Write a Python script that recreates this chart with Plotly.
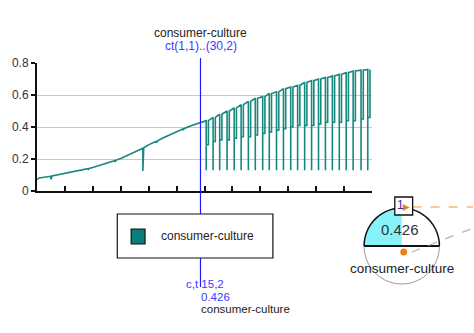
import math
import plotly.graph_objects as go

# ---------------- data ----------------
series_name = "consumer-culture"
cursor_c = 15
cursor_value = 0.426
y_ticks = [0, 0.2, 0.4, 0.6, 0.8]
y_tick_labels = ["0", "0.2", "0.4", "0.6", "0.8"]

# smooth left part (with small notches and one spike)
left_x = [0.36, 0.55, 1.55, 1.62, 1.70, 2.85, 4.00, 4.90, 4.96, 5.02, 5.42, 6.66,
          7.30, 7.36, 7.42, 7.90, 8.88, 9.81, 9.84, 9.84, 9.92, 10.39, 11.00, 11.06,
          11.12, 11.54, 12.87, 13.40, 13.46, 13.52, 14.03, 15.00]
left_y = [0.072, 0.082, 0.092, 0.074, 0.094, 0.110, 0.126, 0.140, 0.132, 0.141, 0.148, 0.174,
          0.190, 0.182, 0.192, 0.205, 0.236, 0.265, 0.268, 0.125, 0.270, 0.290, 0.310, 0.303,
          0.312, 0.328, 0.372, 0.388, 0.381, 0.390, 0.405, 0.426]

# right part: periodic spikes
spike_x = [15.51, 16.13, 16.72, 17.38, 18.02, 18.64, 19.29, 19.91, 20.57, 21.16, 21.81, 22.43,
           23.08, 23.70, 24.33, 24.95, 25.57, 26.19, 26.81, 27.43, 28.05, 28.67, 29.38, 29.98]
spike_top = [0.44, 0.46, 0.48, 0.50, 0.52, 0.54, 0.56, 0.58, 0.59, 0.61, 0.62, 0.64,
             0.65, 0.66, 0.68, 0.69, 0.70, 0.71, 0.72, 0.73, 0.74, 0.75, 0.755, 0.76]
spike_mid = [0.29, 0.31, 0.32, 0.32, 0.33, 0.34, 0.34, 0.35, 0.36, 0.37, 0.38, 0.39,
             0.40, 0.41, 0.41, 0.41, 0.42, 0.43, 0.43, 0.43, 0.44, 0.44, 0.45, 0.46]
spike_low = 0.13

# ---------------- build line path ----------------
xs = list(left_x)
ys = list(left_y)
w = 0.2
for sx, st, sm in zip(spike_x, spike_top, spike_mid):
    xs += [sx, sx, sx, sx + w, sx + w]
    ys += [st, spike_low, sm, sm, st]

LINE = "#17887f"
fig = go.Figure()
fig.add_trace(go.Scatter(x=xs, y=ys, mode="lines", line=dict(color=LINE, width=1.6),
                         name=series_name, showlegend=False, hoverinfo="skip"))

# ---------------- pixel helpers (for decorations) ----------------
L, R, T, B = 34, 372, 63, 191
def PX(px):
    return (px - L) / (R - L)
def PY(py):
    return (B - py) / (B - T)

shapes = []
annotations = []
FONT = "Liberation Sans, Arial, sans-serif"

# cursor line
shapes.append(dict(type="line", xref="x", yref="paper", x0=cursor_c, x1=cursor_c,
                   y0=PY(287), y1=PY(58), line=dict(color="#1a1aff", width=1.2)))

# titles
annotations.append(dict(text=series_name, xref="paper", yref="paper", x=PX(199), y=PY(33),
                        showarrow=False, font=dict(family=FONT, size=12, color="#222"),
                        xanchor="center", yanchor="middle"))
annotations.append(dict(text="ct(1,1)..(30,2)", xref="paper", yref="paper", x=PX(199), y=PY(46),
                        showarrow=False, font=dict(family=FONT, size=12, color="#3a3aff"),
                        xanchor="center", yanchor="middle"))

# legend box
shapes.append(dict(type="rect", xref="paper", yref="paper", x0=PX(115), x1=PX(272),
                   y0=PY(258), y1=PY(214), line=dict(color="#111", width=1.2),
                   fillcolor="white", layer="above"))
shapes.append(dict(type="rect", xref="paper", yref="paper", x0=PX(129), x1=PX(143),
                   y0=PY(244), y1=PY(229), line=dict(color="#111", width=1.2),
                   fillcolor="#0a7f7a", layer="above"))
annotations.append(dict(text=series_name, xref="paper", yref="paper", x=PX(157), y=PY(236),
                        showarrow=False, font=dict(family=FONT, size=12, color="#222"),
                        xanchor="left", yanchor="middle"))

# cursor labels at bottom
annotations.append(dict(text="c,t %d,2" % cursor_c, xref="paper", yref="paper", x=PX(182), y=PY(284),
                        showarrow=False, font=dict(family=FONT, size=11.5, color="#3a3aff"),
                        xanchor="left", yanchor="middle"))
annotations.append(dict(text="%.3f" % cursor_value, xref="paper", yref="paper", x=PX(197), y=PY(296.5),
                        showarrow=False, font=dict(family=FONT, size=11.5, color="#3a3aff"),
                        xanchor="left", yanchor="middle"))
annotations.append(dict(text=series_name, xref="paper", yref="paper", x=PX(197), y=PY(309),
                        showarrow=False, font=dict(family=FONT, size=11.5, color="#222"),
                        xanchor="left", yanchor="middle"))

# gauge widget
cx, cy, r = 402, 246, 38
def arc(a0, a1, n=40):
    pts = []
    for i in range(n + 1):
        a = math.radians(a0 + (a1 - a0) * i / n)
        pts.append((cx + r * math.cos(a), cy - r * math.sin(a)))
    return pts
def path(pts, close=False):
    s = "M " + " L ".join("%.5f,%.5f" % (PX(x), PY(y)) for x, y in pts)
    return s + (" Z" if close else "")

shapes.append(dict(type="path", xref="paper", yref="paper",
                   path=path(arc(180, 360), False), line=dict(color="#9a9a9a", width=1)))
shapes.append(dict(type="path", xref="paper", yref="paper",
                   path=path([(cx, cy)] + arc(180, 90), True),
                   fillcolor="#86f3fb", line=dict(width=0)))
shapes.append(dict(type="path", xref="paper", yref="paper",
                   path=path(arc(0, 180), False), line=dict(color="#111", width=1.5)))
shapes.append(dict(type="line", xref="paper", yref="paper", x0=PX(cx - r), x1=PX(cx + r),
                   y0=PY(cy), y1=PY(cy), line=dict(color="#111", width=2)))
# dashed connectors
shapes.append(dict(type="line", xref="paper", yref="paper", x0=PX(413), x1=PX(474),
                   y0=PY(207), y1=PY(207), line=dict(color="#f5962e", width=1.2, dash="dash")))
shapes.append(dict(type="line", xref="paper", yref="paper", x0=PX(412), x1=PX(474),
                   y0=PY(252), y1=PY(228), line=dict(color="#b4b4b4", width=1.2, dash="dash")))
# orange dot
shapes.append(dict(type="circle", xref="paper", yref="paper", x0=PX(400.5), x1=PX(407.5),
                   y0=PY(255.5), y1=PY(248.5), fillcolor="#f07f1c", line=dict(width=0)))
# small box with "1"
shapes.append(dict(type="rect", xref="paper", yref="paper", x0=PX(395), x1=PX(413),
                   y0=PY(215), y1=PY(197), fillcolor="white", line=dict(color="#111", width=1.3)))
shapes.append(dict(type="path", xref="paper", yref="paper",
                   path=path([(403, 204), (410, 207.5), (403, 211)], True),
                   fillcolor="#f07f1c", line=dict(width=0)))
annotations.append(dict(text="1", xref="paper", yref="paper", x=PX(401), y=PY(205),
                        showarrow=False, font=dict(family=FONT, size=12, color="#3d2cb0"),
                        xanchor="center", yanchor="middle"))
annotations.append(dict(text="%.3f" % cursor_value, xref="paper", yref="paper", x=PX(400), y=PY(229),
                        showarrow=False, font=dict(family=FONT, size=15, color="#333"),
                        xanchor="center", yanchor="middle"))
annotations.append(dict(text=series_name, xref="paper", yref="paper", x=PX(402), y=PY(268),
                        showarrow=False, font=dict(family=FONT, size=13.5, color="#222"),
                        xanchor="center", yanchor="middle"))

fig.update_layout(
    width=474, height=333,
    margin=dict(l=L, r=474 - R, t=T, b=333 - B, pad=0),
    paper_bgcolor="white", plot_bgcolor="white",
    shapes=shapes, annotations=annotations,
    font=dict(family=FONT),
    xaxis=dict(range=[0.36, 30.36], showgrid=False, zeroline=False, showline=True,
               linecolor="#111", linewidth=2, ticks="inside", ticklen=5, tickwidth=1.5,
               tickcolor="#111", tick0=0.36, dtick=2.5, showticklabels=False),
    yaxis=dict(range=[0, 0.8005], tickvals=y_ticks, ticktext=y_tick_labels, showgrid=True,
               gridcolor="#c8c8c8", gridwidth=1, zeroline=False, showline=True,
               linecolor="#111", linewidth=2, ticks="outside", ticklen=4, tickwidth=1.5,
               tickcolor="#111", tickfont=dict(family=FONT, size=12, color="#333")),
)

fig.write_html("out.html")
